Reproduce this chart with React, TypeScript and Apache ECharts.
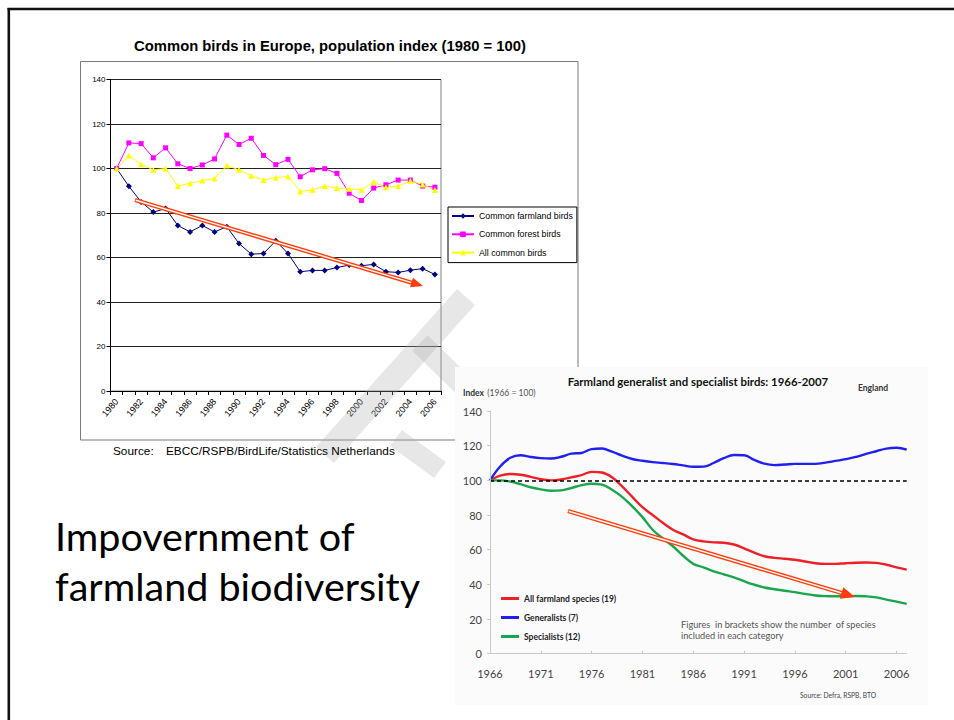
import React, { useEffect, useRef } from "react";
import * as echarts from "echarts";

// ---------- Chart 1: Common birds in Europe (1980 = 100) ----------
const europeYears = [
  "1980", "1981", "1982", "1983", "1984", "1985", "1986", "1987", "1988", "1989",
  "1990", "1991", "1992", "1993", "1994", "1995", "1996", "1997", "1998", "1999",
  "2000", "2001", "2002", "2003", "2004", "2005", "2006",
];
const farmlandBirds = [
  100, 92, 85, 80.4, 82, 74.4, 71.5, 74.4, 71.5, 73.8,
  66.3, 61.5, 61.8, 67.5, 61.8, 53.6, 54.2, 54.2, 55.5, 56.6,
  56.3, 56.9, 53.6, 53.3, 54.3, 55, 52.4,
];
const forestBirds = [
  100, 111.5, 111.2, 104.8, 109.3, 102.1, 100, 101.6, 104.3, 115,
  110.8, 113.6, 105.9, 101.7, 104.1, 96.3, 99.4, 99.9, 97.8, 88.9,
  85.6, 91.2, 92.7, 94.8, 94.8, 92.1, 91.6,
];
const allCommonBirds = [
  100, 105.8, 101.9, 99.4, 100, 92.1, 93.4, 94.6, 95.5, 101.3,
  99.4, 96.7, 94.8, 96, 96.4, 89.7, 90.4, 92.1, 91.2, 90.9,
  90.4, 93.9, 91.6, 92.1, 94.5, 92.8, 90.3,
];
const europeNames = ["Common farmland birds", "Common forest birds", "All common birds"];

// ---------- Chart 2: Farmland generalist and specialist birds, England ----------
const englandYears = [
  "1966", "1967", "1968", "1969", "1970", "1971", "1972", "1973", "1974", "1975",
  "1976", "1977", "1978", "1979", "1980", "1981", "1982", "1983", "1984", "1985",
  "1986", "1987", "1988", "1989", "1990", "1991", "1992", "1993", "1994", "1995",
  "1996", "1997", "1998", "1999", "2000", "2001", "2002", "2003", "2004", "2005",
  "2006", "2007",
];
const allFarmland = [
  100, 102.7, 103.7, 103.2, 102, 100.6, 100, 100.5, 101.7, 103,
  104.9, 104.5, 101.8, 96.5, 90.5, 84.5, 80, 75.5, 71.5, 68.8,
  66, 64.8, 64.2, 64, 63, 60.8, 58.3, 56.2, 55.3, 54.8,
  54.2, 53.2, 52.2, 51.8, 51.8, 52.2, 52.5, 52.6, 52.4, 51.3,
  49.8, 48.5,
];
const generalists = [
  100, 108, 113, 114.5, 113.5, 112.8, 112.6, 113.6, 115.4, 115.8,
  118, 118.4, 116.5, 114.2, 112.3, 111.3, 110.5, 110, 109.4, 108.6,
  107.8, 107.9, 110, 112.8, 114.6, 114.5, 111.8, 109.6, 108.8, 109.1,
  109.5, 109.5, 109.5, 110.2, 111.2, 112.2, 113.5, 115.3, 116.8, 118.3,
  118.8, 117.7,
];
const specialists = [
  100, 100, 99.3, 97.8, 96, 94.8, 94, 94.2, 95.6, 97.2,
  98, 97.5, 94.6, 90.5, 85, 78.8, 71.5, 66.5, 62, 56.5,
  51.8, 49.8, 47.5, 45.8, 44, 41.8, 39.8, 38.2, 37.2, 36.3,
  35.5, 34.5, 33.6, 33.2, 33.1, 33.1, 33.3, 33.1, 32.5, 31.2,
  30, 28.7,
];
const englandNames = ["All farmland species (19)", "Generalists (7)", "Specialists (12)"];
const baselineIndex = 100;

const ARIAL = "'Liberation Sans', Arial, sans-serif";
const CALIBRI = "Lato, 'Open Sans', sans-serif";

function arrow(x1: number, y1: number, x2: number, y2: number, headLen: number, headW: number, color: string) {
  const dx = x2 - x1;
  const dy = y2 - y1;
  const len = Math.sqrt(dx * dx + dy * dy);
  const ux = dx / len;
  const uy = dy / len;
  const px = -uy;
  const py = ux;
  const bx = x2 - ux * headLen;
  const by = y2 - uy * headLen;
  return [
    { type: "line", z: 10, shape: { x1, y1, x2: bx + ux * 2, y2: by + uy * 2 }, style: { stroke: color, lineWidth: 4.2 } },
    { type: "line", z: 11, shape: { x1: x1 + ux * 0.8, y1: y1 + uy * 0.8, x2: bx, y2: by }, style: { stroke: "#ffffff", lineWidth: 1.4 } },
    {
      type: "polygon", z: 12,
      shape: { points: [[x2, y2], [bx + px * headW / 2, by + py * headW / 2], [bx - px * headW / 2, by - py * headW / 2]] },
      style: { fill: color },
    },
  ];
}

function watermarkBand(cx1: number, cy1: number, cx2: number, cy2: number, w: number) {
  const dx = cx2 - cx1;
  const dy = cy2 - cy1;
  const len = Math.sqrt(dx * dx + dy * dy);
  const px = (-dy / len) * w / 2;
  const py = (dx / len) * w / 2;
  return {
    type: "polygon", z: 1,
    shape: { points: [[cx1 + px, cy1 + py], [cx2 + px, cy2 + py], [cx2 - px, cy2 - py], [cx1 - px, cy1 - py]] },
    style: { fill: "rgba(170,170,170,0.28)" },
  };
}

export default function App() {
  const ref = useRef<HTMLDivElement>(null);
  useEffect(() => {
    if (!ref.current) return;
    const chart = echarts.init(ref.current, null, { renderer: "svg" });
    const option: any = {
      animation: false,
      backgroundColor: "#ffffff",
      grid: [
        { left: 110.5, top: 79.5, width: 330.5, height: 311.5, show: true, borderColor: "#808080", borderWidth: 1, backgroundColor: "transparent" },
        { left: 490, top: 411, width: 416.7, height: 242.7 },
      ],
      xAxis: [
        {
          type: "category", gridIndex: 0, data: europeYears, boundaryGap: true,
          axisLine: { lineStyle: { color: "#000", width: 1 } },
          axisTick: { show: true, interval: 0, length: 4, lineStyle: { color: "#000" } },
          axisLabel: { interval: 1, rotate: 50, fontSize: 9, color: "#000", fontFamily: ARIAL, margin: 9 },
          splitLine: { show: false },
        },
        {
          type: "category", gridIndex: 1, data: englandYears, boundaryGap: false, z: 5,
          axisLine: { lineStyle: { color: "#c8c8c8", width: 1 } },
          axisTick: { show: true, interval: 4, length: 3, inside: true, lineStyle: { color: "#c8c8c8" } },
          axisLabel: { interval: 4, fontSize: 11, color: "#444", fontFamily: CALIBRI, margin: 14 },
          splitLine: { show: false },
        },
      ],
      yAxis: [
        {
          type: "value", gridIndex: 0, min: 0, max: 140, interval: 20,
          axisLine: { show: true, lineStyle: { color: "#000", width: 1 } },
          axisTick: { show: true, length: 4, lineStyle: { color: "#000" } },
          axisLabel: { fontSize: 8, color: "#000", fontFamily: ARIAL, margin: 5 },
          splitLine: { show: true, lineStyle: { color: "#222", width: 1 } },
        },
        {
          type: "value", gridIndex: 1, min: 0, max: 140, interval: 20, z: 5,
          axisLine: { show: true, lineStyle: { color: "#c8c8c8", width: 1 } },
          axisTick: { show: true, length: 3, lineStyle: { color: "#c8c8c8" } },
          axisLabel: { fontSize: 11, color: "#444", fontFamily: CALIBRI, margin: 8 },
          splitLine: { show: false },
        },
      ],
      legend: [
        {
          data: europeNames, orient: "vertical", left: 448, top: 207,
          padding: [3.5, 4, 4.5, 3], itemGap: 7.3, itemWidth: 22, itemHeight: 7,
          borderColor: "#000", borderWidth: 1, backgroundColor: "#fff",
          textStyle: { fontSize: 8.8, color: "#000", fontFamily: ARIAL, lineHeight: 11 },
        },
        {
          data: englandNames.map((n) => ({ name: n, icon: "rect" })), orient: "vertical", left: 501, top: 593,
          padding: 0, itemGap: 8, itemWidth: 18, itemHeight: 3,
          textStyle: { fontSize: 8.5, color: "#222", fontWeight: "bold", fontFamily: CALIBRI, lineHeight: 11 },
        },
      ],
      series: [
        {
          name: europeNames[0], type: "line", xAxisIndex: 0, yAxisIndex: 0, data: farmlandBirds,
          symbol: "diamond", symbolSize: 6, lineStyle: { color: "#000080", width: 1 }, itemStyle: { color: "#000080" },
        },
        {
          name: europeNames[1], type: "line", xAxisIndex: 0, yAxisIndex: 0, data: forestBirds,
          symbol: "rect", symbolSize: 5, lineStyle: { color: "#ff00ff", width: 1 }, itemStyle: { color: "#ff00ff" },
        },
        {
          name: europeNames[2], type: "line", xAxisIndex: 0, yAxisIndex: 0, data: allCommonBirds,
          symbol: "triangle", symbolSize: 6, lineStyle: { color: "#ffff00", width: 1 }, itemStyle: { color: "#ffff00" },
        },
        {
          name: englandNames[0], type: "line", xAxisIndex: 1, yAxisIndex: 1, data: allFarmland, smooth: 0.4,
          showSymbol: false, lineStyle: { color: "#ee1f26", width: 2.4 }, itemStyle: { color: "#ee1f26" },
          markLine: {
            silent: true, symbol: ["none", "none"], label: { show: false },
            lineStyle: { color: "#000", type: [4, 3], width: 1.5 },
            data: [{ yAxis: baselineIndex }],
          },
        },
        {
          name: englandNames[1], type: "line", xAxisIndex: 1, yAxisIndex: 1, data: generalists, smooth: 0.4,
          showSymbol: false, lineStyle: { color: "#2020f0", width: 2.4 }, itemStyle: { color: "#2020f0" },
        },
        {
          name: englandNames[2], type: "line", xAxisIndex: 1, yAxisIndex: 1, data: specialists, smooth: 0.4,
          showSymbol: false, lineStyle: { color: "#1aa64f", width: 2.4 }, itemStyle: { color: "#1aa64f" },
        },
      ],
      graphic: [
        // slide border
        { type: "line", z: 0, shape: { x1: 7.5, y1: 9, x2: 954, y2: 9 }, style: { stroke: "#111", lineWidth: 2.6 } },
        { type: "line", z: 0, shape: { x1: 8.8, y1: 8, x2: 8.8, y2: 720 }, style: { stroke: "#111", lineWidth: 2.6 } },
        // chart 1 frame
        { type: "rect", z: 0, shape: { x: 80.5, y: 61.5, width: 497.5, height: 378.5 }, style: { fill: "transparent", stroke: "#7a7a7a", lineWidth: 1 } },
        // watermark
        watermarkBand(466, 297, 325, 455, 24),
        watermarkBand(420, 343, 470, 392, 22),
        watermarkBand(396, 438, 440, 470, 20),
        // chart 2 background
        { type: "rect", z: 1.5, shape: { x: 455, y: 367, width: 473, height: 338 }, style: { fill: "#fbfbfb" } },
        // titles and texts
        {
          type: "text", z: 10, x: 330, y: 46,
          style: { text: "Common birds in Europe, population index (1980 = 100)", font: `bold 14.8px ${ARIAL}`, fill: "#000", align: "center", verticalAlign: "middle" },
        },
        {
          type: "text", z: 10, x: 113, y: 451,
          style: { text: "Source:", font: `11.8px ${ARIAL}`, fill: "#000", align: "left", verticalAlign: "middle" },
        },
        {
          type: "text", z: 10, x: 166, y: 451,
          style: { text: "EBCC/RSPB/BirdLife/Statistics Netherlands", font: `11.8px ${ARIAL}`, fill: "#000", align: "left", verticalAlign: "middle" },
        },
        {
          type: "text", z: 10, x: 55, y: 535,
          style: { text: "Impovernment of", font: `39.5px ${CALIBRI}`, fill: "#000", align: "left", verticalAlign: "middle" },
        },
        {
          type: "text", z: 10, x: 55, y: 585,
          style: { text: "farmland biodiversity", font: `39.5px ${CALIBRI}`, fill: "#000", align: "left", verticalAlign: "middle" },
        },
        {
          type: "text", z: 10, x: 698, y: 381,
          style: { text: "Farmland generalist and specialist birds: 1966-2007", font: `bold 11.4px ${CALIBRI}`, fill: "#111", align: "center", verticalAlign: "middle" },
        },
        {
          type: "text", z: 10, x: 858, y: 388,
          style: { text: "England", font: `bold 8.5px ${CALIBRI}`, fill: "#333", align: "left", verticalAlign: "middle" },
        },
        {
          type: "text", z: 10, x: 463, y: 393,
          style: {
            text: "{b|Index} {n|(1966 = 100)}", align: "left", verticalAlign: "middle",
            rich: {
              b: { font: `bold 8.5px ${CALIBRI}`, fill: "#333" },
              n: { font: `8.5px ${CALIBRI}`, fill: "#555" },
            },
          },
        },
        {
          type: "text", z: 10, x: 681, y: 624,
          style: { text: "Figures  in brackets show the number  of species", font: `9.2px ${CALIBRI}`, fill: "#555", align: "left", verticalAlign: "middle" },
        },
        {
          type: "text", z: 10, x: 681, y: 635.5,
          style: { text: "included in each category", font: `9.2px ${CALIBRI}`, fill: "#555", align: "left", verticalAlign: "middle" },
        },
        {
          type: "text", z: 10, x: 800, y: 695,
          style: { text: "Source: Defra, RSPB, BTO", font: `6.7px ${CALIBRI}`, fill: "#444", align: "left", verticalAlign: "middle" },
        },
        // trend arrows
        ...arrow(135, 200, 423, 286, 12, 10, "#ff3d0a"),
        ...arrow(568, 511, 855, 597, 14, 12, "#ff3d0a"),
      ],
    };
    chart.setOption(option);
    return () => chart.dispose();
  }, []);
  return <div ref={ref} style={{ position: "absolute", left: 0, top: 0, width: 954, height: 720 }} />;
}
